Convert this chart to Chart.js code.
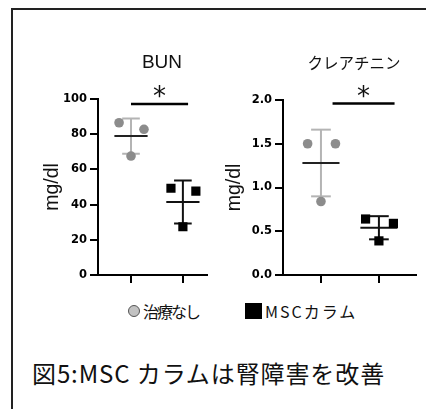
<!DOCTYPE html>
<html>
<head>
<meta charset="utf-8">
<script src="https://cdn.jsdelivr.net/npm/chart.js@4.4.0/dist/chart.umd.min.js"></script>
<style>
  body { margin: 0; background: #fff; width: 426px; height: 409px; overflow: hidden; position: relative;
         font-family: "Noto Sans CJK JP", sans-serif; color: #111; }
  #frame { position: absolute; left: 11px; top: 8px; width: 430px; height: 420px;
           border-top: 2px solid #222; border-left: 2px solid #222; }
  canvas { position: absolute; top: 0; }
  #bun { left: 0; }
  #cre { left: 213px; }
  .lg { position: absolute; font-size: 16px; line-height: 20px; top: 301px; white-space: nowrap; }
  .dot { position: absolute; left: 128px; top: 305px; width: 12px; height: 12px; border-radius: 50%;
         background: #c2c2c2; border: 1.3px solid #555; box-sizing: border-box; }
  .sq { position: absolute; left: 245px; top: 303px; width: 17px; height: 16px; background: #000; }
  #caption { position: absolute; left: 32px; top: 357px; font-size: 24px; line-height: 32px;
             letter-spacing: 0.9px; white-space: nowrap; }
</style>
</head>
<body>
<div id="frame"></div>
<canvas id="bun" width="213" height="290"></canvas>
<canvas id="cre" width="213" height="290"></canvas>
<div class="dot"></div><span class="lg" id="lg1" style="left:143px;letter-spacing:-2px"></span>
<div class="sq"></div><span class="lg" id="lg2" style="left:265px;letter-spacing:2px"></span>
<div id="caption">図5:MSC カラムは腎障害を改善</div>
<script>
// values (three animals per group), points listed left, right, centre
const groups = ["治療なし", "MSCカラム"];
const bunControl = [86.5, 82.8, 67.6];
const bunMsc = [49.3, 47.7, 27.4];
const creControl = [1.50, 1.50, 0.84];
const creMsc = [0.64, 0.59, 0.39];
const bunTicks = [0, 20, 40, 60, 80, 100];
const creTicks = [0.0, 0.5, 1.0, 1.5, 2.0];

// horizontal spread of the dots and widths of the mean / SD bars, in category units
const JITTER = [-0.23, 0.25, 0];
const MEAN_HALF = 0.32;
const CAP_HALF = 0.17;
const GREY_DOT = "#8c8c8c";
const GREY_BAR = "#b4b4b4";

document.getElementById("lg1").textContent = groups[0];
document.getElementById("lg2").textContent = groups[1];

function seg(pts, color, width) {
  return { data: pts, showLine: true, borderColor: color, borderWidth: width || 2, pointRadius: 0 };
}

function errorBars(c, vals, color, meanColor) {
  const m = vals.reduce((a, b) => a + b, 0) / vals.length;
  const sd = Math.sqrt(vals.reduce((a, v) => a + (v - m) ** 2, 0) / (vals.length - 1));
  return [
    seg([{ x: c - MEAN_HALF, y: m }, { x: c + MEAN_HALF, y: m }], meanColor),
    seg([{ x: c, y: m - sd }, { x: c, y: m + sd }], color),
    seg([{ x: c - CAP_HALF, y: m + sd }, { x: c + CAP_HALF, y: m + sd }], color),
    seg([{ x: c - CAP_HALF, y: m - sd }, { x: c + CAP_HALF, y: m - sd }], color),
  ];
}

function dots(c, vals, style) {
  return {
    data: vals.map((v, i) => ({ x: c + JITTER[i], y: v })),
    showLine: false,
    pointStyle: style,
    pointRadius: style === "rect" ? 6.5 : 4.8,
    backgroundColor: style === "rect" ? "#000" : GREY_DOT,
    borderWidth: 0,
  };
}

// draws the panel title and the significance asterisk
const annot = {
  id: "annot",
  afterDraw(chart, args, o) {
    const { ctx, scales: { x, y } } = chart;
    ctx.save();
    ctx.fillStyle = "#111";
    ctx.textAlign = "center";
    ctx.textBaseline = "middle";
    ctx.font = o.titleFont;
    ctx.fillText(o.title, o.titleX, o.titleY);
    ctx.textBaseline = "alphabetic";
    ctx.font = '26px "DejaVu Sans"';
    const sx = x.getPixelForValue((o.sig[0] + o.sig[1]) / 2);
    ctx.fillText("*", sx, y.getPixelForValue(o.sigY) + 1);
    ctx.restore();
  },
};

function buildChart(id, cfg) {
  const datasets = [
    dots(1, cfg.control, "circle"),
    dots(2, cfg.msc, "rect"),
    ...errorBars(1, cfg.control, GREY_BAR, "#222"),
    ...errorBars(2, cfg.msc, "#111", "#111"),
    seg([{ x: cfg.sig[0], y: cfg.sigY }, { x: cfg.sig[1], y: cfg.sigY }], "#000", 2.5),
  ];
  return new Chart(document.getElementById(id), {
    type: "scatter",
    data: { datasets },
    plugins: [annot],
    options: {
      responsive: false,
      animation: false,
      events: [],
      layout: { padding: { top: cfg.top, left: 0, right: cfg.right, bottom: 0 } },
      scales: {
        x: {
          type: "linear",
          min: cfg.xMin,
          max: cfg.xMax,
          afterBuildTicks: (s) => { s.ticks = [{ value: 1 }, { value: 2 }]; },
          afterFit: (s) => { s.height = 15; },
          ticks: { display: false },
          grid: { drawOnChartArea: false, drawTicks: true, tickLength: 8, color: "#000", lineWidth: 2 },
          border: { color: "#000", width: 2 },
        },
        y: {
          min: cfg.ticks[0],
          max: cfg.ticks[cfg.ticks.length - 1],
          afterBuildTicks: (s) => { s.ticks = cfg.ticks.map((v) => ({ value: v })); },
          afterFit: (s) => { s.width = cfg.yWidth; },
          ticks: {
            color: "#000",
            padding: 3,
            font: { family: "DejaVu Sans", size: 11.5, weight: "bold" },
            callback: cfg.fmt,
          },
          grid: { drawOnChartArea: false, drawTicks: true, tickLength: 8, color: "#000", lineWidth: 2 },
          border: { color: "#000", width: 2 },
          title: {
            display: true,
            text: "mg/dl",
            color: "#111",
            font: { family: "Liberation Sans", size: 19.5 },
            padding: { top: cfg.titlePad, bottom: 0 },
          },
        },
      },
      plugins: {
        legend: { display: false },
        tooltip: { enabled: false },
        annot: {
          title: cfg.title,
          titleFont: cfg.titleFont,
          titleX: cfg.titleX,
          titleY: 63,
          sig: cfg.sig,
          sigY: cfg.sigY,
        },
      },
    },
  });
}

buildChart("bun", {
  control: bunControl, msc: bunMsc, ticks: bunTicks, fmt: (v) => String(v),
  title: "BUN", titleFont: '19px "Liberation Sans"', titleX: 162,
  sig: [1.0, 2.1], sigY: 97.2,
  xMin: 0.364, xMax: 2.455, top: 99, right: 0, yWidth: 98, titlePad: 41,
});

buildChart("cre", {
  control: creControl, msc: creMsc, ticks: creTicks, fmt: (v) => v.toFixed(1),
  title: "クレアチニン", titleFont: '15.5px "Noto Sans CJK JP"', titleX: 141,
  sig: [1.2, 2.27], sigY: 1.96,
  xMin: 0.345, xMax: 2.64, top: 100, right: 10, yWidth: 70, titlePad: 10,
});
</script>
</body>
</html>
